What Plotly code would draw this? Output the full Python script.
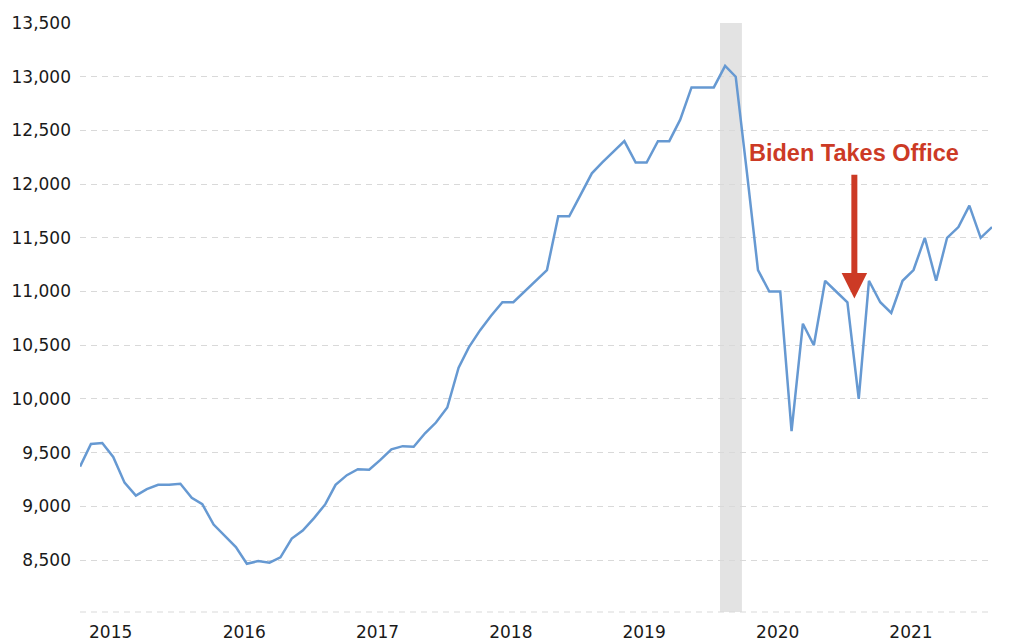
import pandas as pd
import plotly.graph_objects as go

# Monthly series, Apr 2015 .. Feb 2022
values = [
    9370, 9580, 9590, 9460, 9220, 9100, 9160, 9200, 9200,          # 2015 Apr-Dec
    9210, 9080, 9020, 8830, 8730, 8620, 8465, 8490, 8475, 8525, 8700, 8775,  # 2016
    8890, 9020, 9200, 9290, 9345, 9340, 9430, 9530, 9560, 9555, 9680, 9780,  # 2017
    9920, 10290, 10480, 10640, 10775, 10900, 10900, 11000, 11100, 11200, 11700, 11700,  # 2018
    11900, 12100, 12200, 12300, 12400, 12200, 12200, 12400, 12400, 12600, 12900, 12900,  # 2019
    12900, 13100, 13000, 12100, 11200, 11000, 11000, 9700, 10700, 10500, 11100, 11000,  # 2020
    10900, 10000, 11100, 10900, 10800, 11100, 11200, 11500, 11100, 11500, 11600, 11800,  # 2021
    11500, 11600,  # 2022
]
dates = pd.date_range("2015-04-01", periods=len(values), freq="MS") + pd.Timedelta(days=14)

year_labels = ["2015", "2016", "2017", "2018", "2019", "2020", "2021"]
year_ticks = [f"{y}-07-08" for y in year_labels]
y_ticks = [8500, 9000, 9500, 10000, 10500, 11000, 11500, 12000, 12500, 13000, 13500]

recession = ("2020-02-01", "2020-04-01")
event_date = "2021-02-03"
event_text = "Biden Takes Office"
arrow_tail, arrow_tip = 12100, 10935

fig = go.Figure()
fig.add_trace(go.Scatter(
    x=dates, y=values, mode="lines",
    line=dict(color="#6699d2", width=2.5),
    hoverinfo="skip",
))

fig.add_shape(type="rect", xref="x", yref="paper",
              x0=recession[0], x1=recession[1], y0=0, y1=1,
              fillcolor="#e3e3e3", line_width=0, layer="below")
fig.add_shape(type="line", xref="paper", yref="paper", x0=0, x1=1, y0=0, y1=0,
              line=dict(color="#d9d9d9", width=1, dash="6px,5px"), layer="below")

fig.add_annotation(x=event_date, y=12290, text=f"<b>{event_text}</b>", showarrow=False,
                   xanchor="center", yanchor="middle",
                   font=dict(family="Liberation Sans, Arial", size=23.5, color="#cc3a25"))
fig.add_annotation(x=event_date, y=arrow_tip, ax=event_date, ay=arrow_tail,
                   axref="x", ayref="y", text="", showarrow=True,
                   arrowhead=2, arrowwidth=6, arrowsize=0.85, arrowcolor="#cc3a25")

# page body has an 8px default margin, so the figure is offset by 8px
fig.update_layout(
    width=1016, height=636,
    margin=dict(l=72, r=32, t=15, b=32, autoexpand=False),
    paper_bgcolor="white", plot_bgcolor="white",
    showlegend=False,
    font=dict(family="DejaVu Sans, Verdana", size=17, color="#1a1a1a"),
    xaxis=dict(
        range=[dates[0], dates[-1]],
        tickvals=year_ticks, ticktext=year_labels,
        showgrid=False, zeroline=False, showline=False, ticks="",
        ticklabelstandoff=8, automargin=False,
    ),
    yaxis=dict(
        range=[8016, 13500],
        tickvals=y_ticks, tickformat=",",
        showgrid=True, gridcolor="#d9d9d9", gridwidth=1, griddash="6px,5px",
        zeroline=False, showline=False, ticks="",
        ticklabelstandoff=8, automargin=False,
    ),
)

fig.write_html("out.html")
